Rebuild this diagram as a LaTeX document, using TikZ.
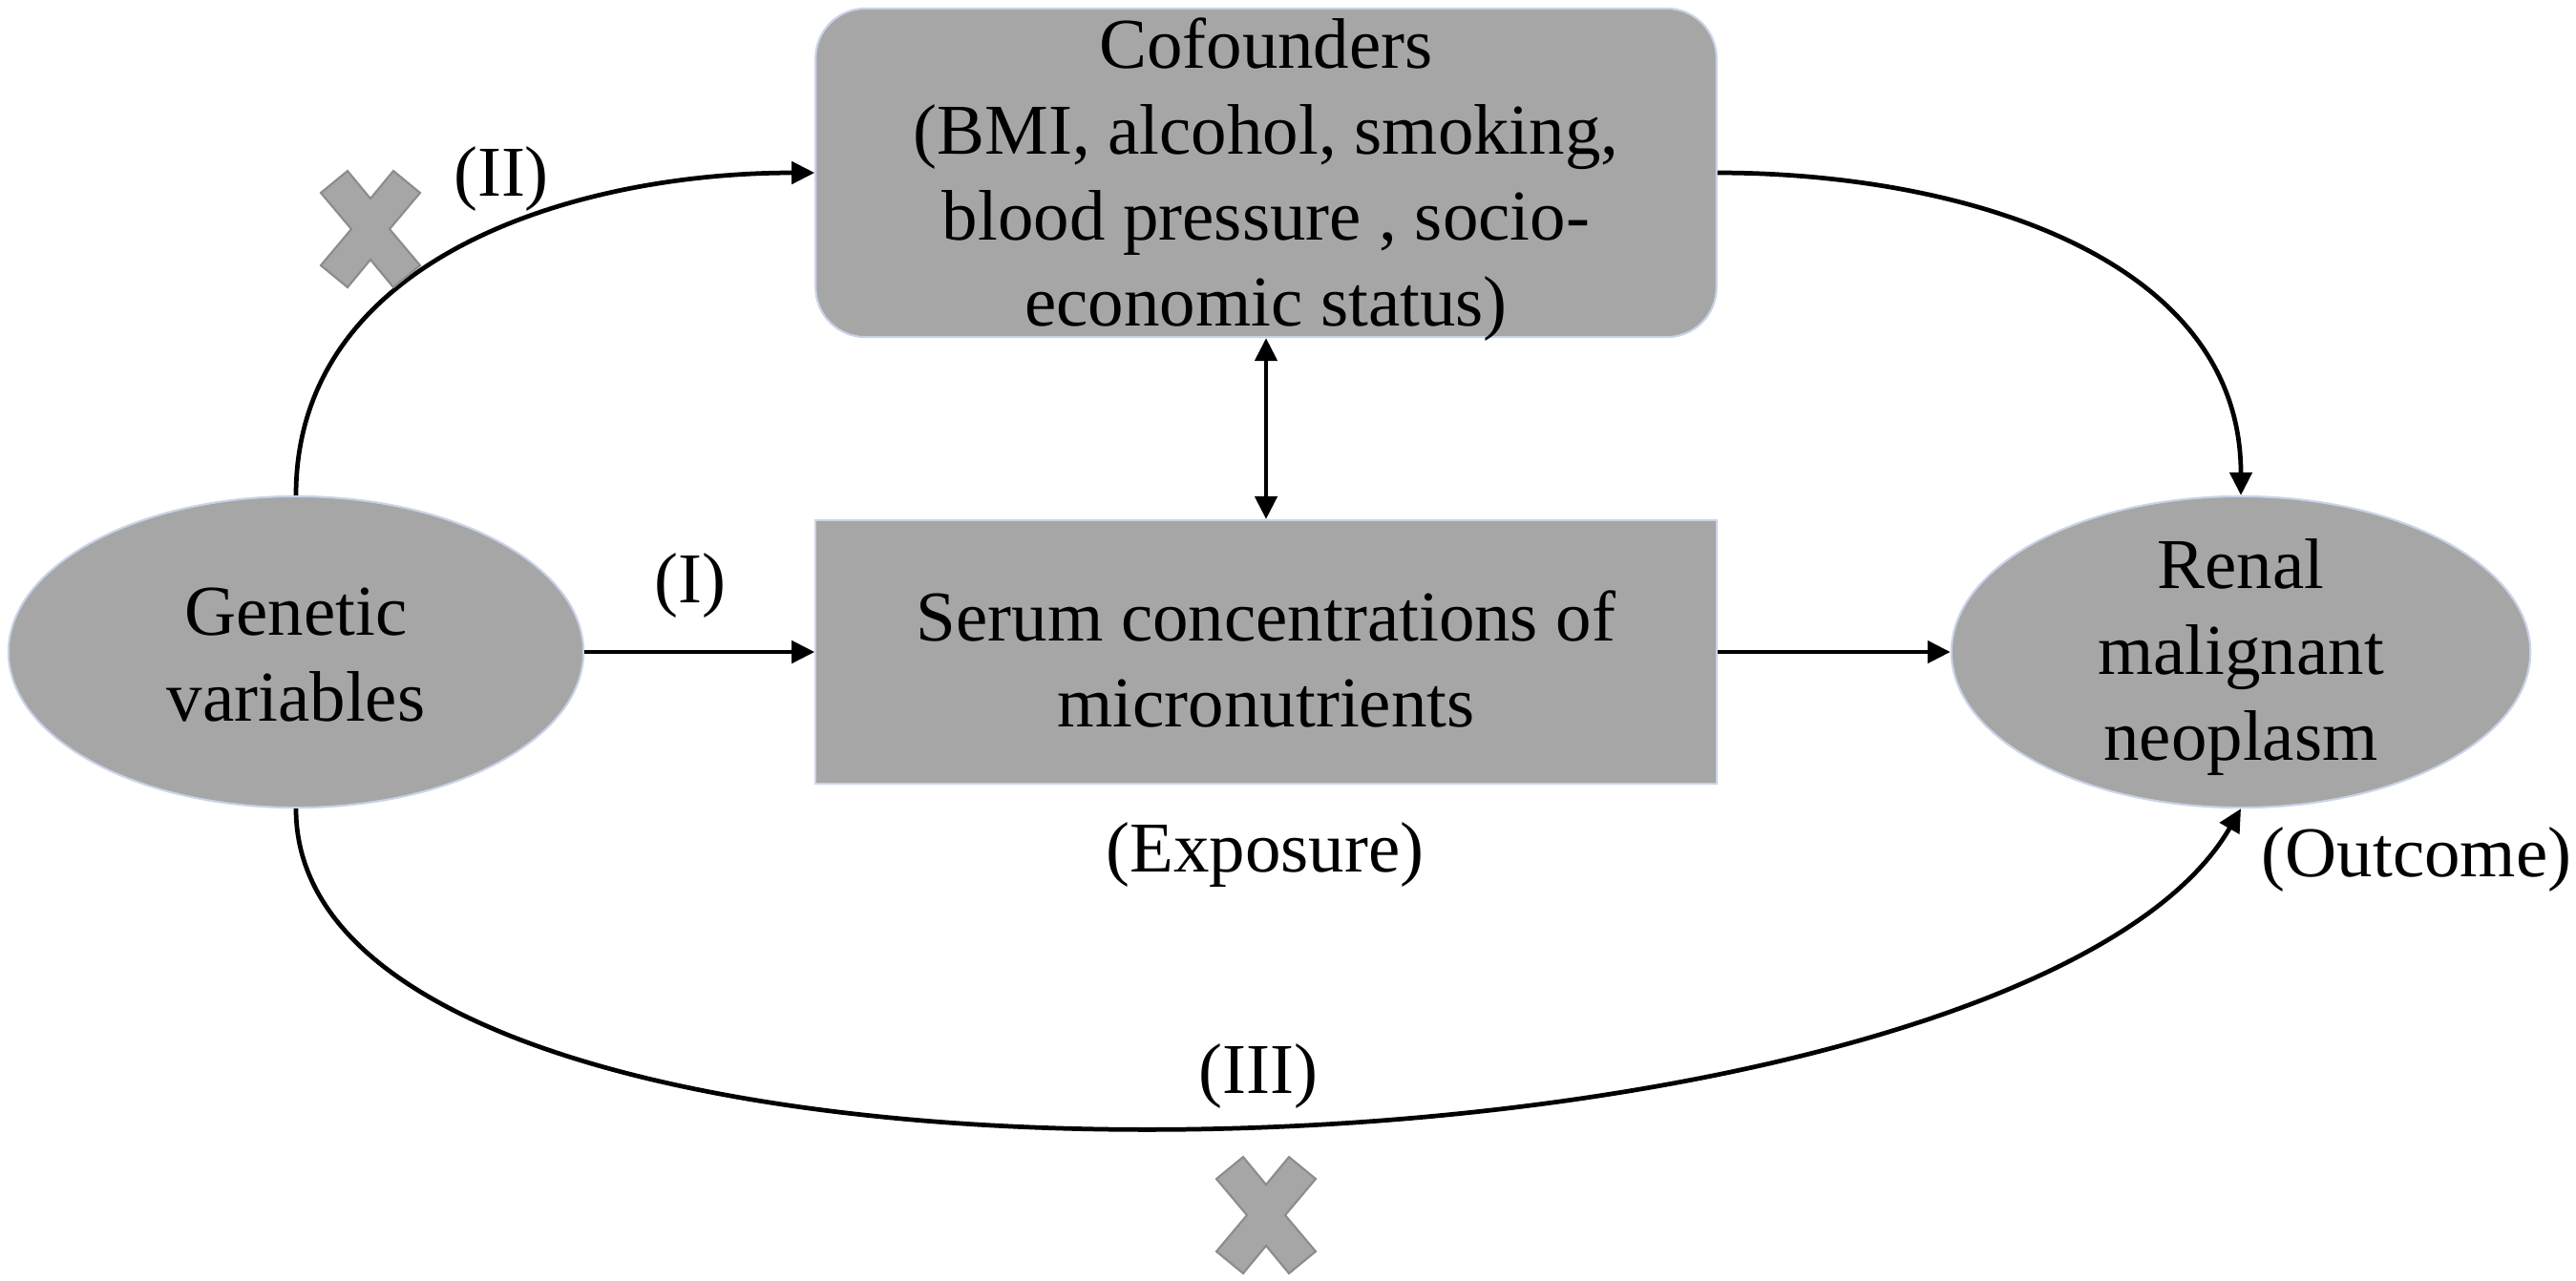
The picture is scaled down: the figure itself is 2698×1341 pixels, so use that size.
\documentclass[tikz,border=0pt]{standalone}
\usepackage{fontspec}
\setmainfont{Liberation Serif}
\usetikzlibrary{shapes.geometric,arrows.meta}
\definecolor{boxgray}{HTML}{A6A6A6}
\definecolor{edgeblue}{HTML}{C9D3E8}
\definecolor{xedge}{HTML}{8C8C8C}
\begin{document}
\begin{tikzpicture}[x=0.01cm,y=0.01cm,
  txt/.style={font=\fontsize{21.3pt}{25.6pt}\selectfont, align=center, inner sep=0pt},
  oval/.style={ellipse, draw=edgeblue, line width=0.6pt, fill=boxgray, inner sep=0pt},
  rbox/.style={rectangle, draw=edgeblue, line width=0.6pt, fill=boxgray, inner sep=0pt},
  arr/.style={-{Triangle[length=0.24cm,width=0.23cm]}, line width=1.35pt, black},
  arrtwo/.style={{Triangle[length=0.24cm,width=0.23cm]}-{Triangle[length=0.24cm,width=0.23cm]}, line width=1.35pt, black},
  crossmk/.pic={\draw[xedge, fill=boxgray, line width=0.6pt, line join=miter]
     (-52,38) -- (-24,61) -- (0,32) -- (24,61) -- (52,38) -- (20,0) -- (52,-38)
     -- (24,-61) -- (0,-32) -- (-24,-61) -- (-52,-38) -- (-20,0) -- cycle;}
]
\useasboundingbox (0,0) rectangle (2698,-1341);

% nodes
\node[oval, minimum width=6.02cm, minimum height=3.26cm] (gen) at (310,-683) {};
\node[txt] (gentxt) at (310,-686) {Genetic\\variables};

\node[rbox, minimum width=9.43cm, minimum height=3.44cm, rounded corners=0.52cm] (cof) at (1326,-181) {};
\node[txt] (coftxt) at (1326,-188) {Cofounders\\(BMI, alcohol, smoking,\\blood pressure , socio-\\economic status)};

\node[rbox, minimum width=9.43cm, minimum height=2.76cm] (ser) at (1326,-683) {};
\node[txt] (sertxt) at (1326,-690) {Serum concentrations of\\micronutrients};

\node[oval, minimum width=6.06cm, minimum height=3.26cm] (ren) at (2347,-683) {};
\node[txt] (rentxt) at (2347,-688) {Renal\\malignant\\neoplasm};

% labels
\node[txt] (l1) at (723,-613) {(I)};
\node[txt] (l2) at (525,-187) {(II)};
\node[txt] (l3) at (1318,-1127) {(III)};
\node[txt] (lexp) at (1325,-895) {(Exposure)};
\node[txt] (lout) at (2531,-900) {(Outcome)};

% connectors
\draw[arr] (gen.east) -- (ser.west);
\draw[arr] (ser.east) -- (ren.west);
\draw[arrtwo] (cof.south) -- (ser.north);
\draw[arr] (gen.north) to[out=90,in=180] (cof.west);
\draw[arr] (cof.east) to[out=0,in=90] (ren.north);
\draw[arr] (gen.south) to[out=-90,in=-120,looseness=0.6] (ren.south);

% cross marks
\pic at (388,-240) {crossmk};
\pic at (1326,-1273) {crossmk};
\end{tikzpicture}
\end{document}
